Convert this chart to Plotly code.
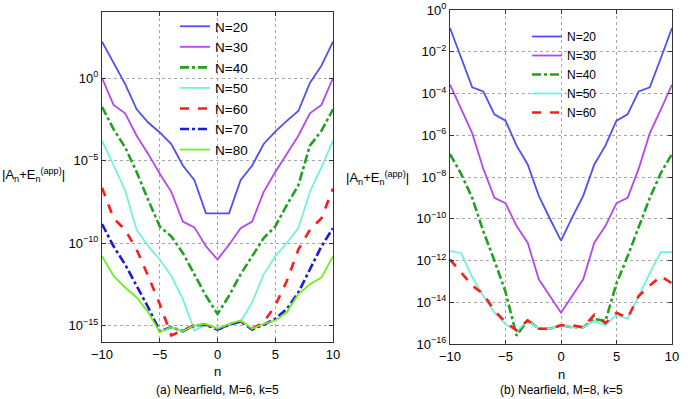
import numpy as np
import plotly.graph_objects as go

# sample index n
n = list(range(-10, 11))

# panel (a): Nearfield, M=6, k=5  -- log10 |A_n + E_n^(app)|
a_n20 = [2.2, 0.9, -0.35, -1.9, -2.7, -3.3, -4.0, -5.3, -6.2, -8.2, -8.2,
         -8.2, -6.2, -5.3, -4.0, -3.25, -2.6, -2.0, -0.3, 0.75, 2.2]
a_n30 = [0.0, -1.63, -2.14, -3.5, -4.6, -5.8, -6.9, -8.7, -9.05, -10.2, -11.0,
         -10.1, -9.1, -8.7, -6.9, -5.7, -4.6, -3.5, -2.14, -1.63, 0.0]
a_n40 = [-1.75, -3.1, -4.2, -5.7, -7.4, -9.0, -9.6, -10.6, -11.9, -13.2, -14.3,
         -13.2, -11.9, -10.8, -9.7, -9.0, -7.7, -6.5, -4.1, -3.2, -1.9]
a_n50 = [-3.8, -5.3, -6.8, -9.2, -10.2, -11.0, -12.0, -13.4, -15.3, -14.95, -15.2,
         -14.95, -14.75, -13.6, -11.9, -10.8, -10.0, -9.1, -6.9, -5.4, -3.8]
a_n60 = [-6.65, -8.5, -9.2, -10.4, -12.0, -13.7, -15.6, -15.3, -15.0, -14.95, -15.25,
         -14.95, -14.75, -15.2, -14.8, -13.8, -12.3, -10.4, -9.2, -8.5, -6.7]
a_n70 = [-8.85, -10.2, -11.3, -12.6, -13.9, -15.35, -15.1, -15.35, -15.0, -14.95, -15.25,
         -14.95, -14.75, -15.25, -14.95, -14.6, -14.0, -13.0, -11.6, -10.2, -9.1]
a_n80 = [-10.8, -12.0, -12.7, -13.3, -14.2, -15.4, -15.1, -15.35, -15.0, -14.9, -15.2,
         -14.9, -14.7, -15.2, -14.9, -14.7, -14.2, -13.1, -12.5, -12.1, -10.8]

# panel (b): Nearfield, M=8, k=5
b_n20 = [-0.86, -2.3, -3.7, -3.9, -5.0, -5.3, -6.5, -7.4, -8.9, -10.0, -11.05,
         -9.95, -8.9, -7.4, -6.5, -5.3, -5.0, -3.9, -3.7, -2.3, -0.86]
b_n30 = [-3.57, -4.76, -5.9, -7.6, -9.0, -9.25, -10.35, -11.15, -12.9, -13.7, -14.5,
         -13.7, -12.9, -11.15, -10.35, -9.25, -9.0, -7.6, -5.9, -4.76, -3.57]
b_n40 = [-6.9, -7.85, -9.0, -10.6, -12.0, -13.5, -15.6, -14.85, -15.27, -15.27, -15.1,
         -15.2, -15.2, -14.8, -14.9, -13.1, -11.8, -10.4, -9.0, -7.8, -6.9]
b_n50 = [-11.55, -11.65, -12.8, -13.7, -14.5, -15.05, -15.4, -14.87, -15.27, -15.27, -15.1,
         -15.2, -15.2, -14.9, -15.1, -14.6, -14.8, -13.7, -12.6, -11.6, -11.6]
b_n60 = [-11.95, -12.6, -13.2, -13.6, -14.4, -14.95, -15.35, -14.87, -15.27, -15.27, -15.1,
         -15.1, -15.2, -14.6, -15.0, -14.5, -14.75, -13.7, -13.2, -12.75, -13.1]

# y tick exponents
a_ticks = [0, -5, -10, -15]
b_ticks = [0, -2, -4, -6, -8, -10, -12, -14, -16]

FONT = "Liberation Sans, Arial, sans-serif"

styles = {
    "N=20": dict(color="#4f4ff2", width=1.8, dash="solid"),
    "N=30": dict(color="#b347f2", width=1.8, dash="solid"),
    "N=40": dict(color="#22a022", width=2.6, dash="dashdot"),
    "N=50": dict(color="#72f2dc", width=1.8, dash="solid"),
    "N=60": dict(color="#ff1a1a", width=2.6, dash="dash"),
    "N=70": dict(color="#1a1ae0", width=2.6, dash="dashdot"),
    "N=80": dict(color="#6ff01c", width=1.8, dash="solid"),
}

fig = go.Figure()

left = [("N=20", a_n20), ("N=30", a_n30), ("N=40", a_n40), ("N=50", a_n50),
        ("N=60", a_n60), ("N=70", a_n70), ("N=80", a_n80)]
for name, vals in left:
    fig.add_trace(go.Scatter(
        x=n, y=10 ** np.array(vals), mode="lines", name=name,
        line=styles[name], xaxis="x", yaxis="y", legend="legend",
    ))

right = [("N=20", b_n20), ("N=30", b_n30), ("N=40", b_n40), ("N=50", b_n50),
         ("N=60", b_n60)]
for name, vals in right:
    fig.add_trace(go.Scatter(
        x=n, y=10 ** np.array(vals), mode="lines", name=name,
        line=styles[name], xaxis="x2", yaxis="y2", legend="legend2",
    ))

W, H = 692, 399


def px(x):
    return x / W


def py(y):
    return 1 - y / H


def pow_label(e):
    return "10<sup>%s</sup>" % (str(e).replace("-", "\u2212"))


axis_common = dict(
    showline=True, linecolor="#333", linewidth=1, mirror="ticks",
    ticks="inside", ticklen=4, tickcolor="#333", automargin=False,
    showgrid=True, gridcolor="#a8a8a8", griddash="dot", gridwidth=1,
    zeroline=False, tickfont=dict(family=FONT, size=13, color="black"),
)

xaxis_common = dict(axis_common, range=[-10, 10], tickvals=[-10, -5, 0, 5, 10])

fig.update_layout(
    width=W, height=H,
    margin=dict(l=0, r=0, t=0, b=0),
    paper_bgcolor="white", plot_bgcolor="white",
    font=dict(family=FONT, size=13, color="black"),
    xaxis=dict(xaxis_common, domain=[px(102), px(333)], anchor="y"),
    yaxis=dict(axis_common, type="log", range=[-16, 4],
               tickvals=[10.0 ** e for e in a_ticks],
               ticktext=[pow_label(e) for e in a_ticks],
               domain=[py(342), py(12)], anchor="x"),
    xaxis2=dict(xaxis_common, domain=[px(450), px(672)], anchor="y2"),
    yaxis2=dict(axis_common, type="log", range=[-16, 0],
                tickvals=[10.0 ** e for e in b_ticks],
                ticktext=[pow_label(e) for e in b_ticks],
                domain=[py(344), py(10)], anchor="x2"),
    legend=dict(x=px(175), y=py(11), xanchor="left", yanchor="top",
                bgcolor="rgba(0,0,0,0)", font=dict(family=FONT, size=13.5),
                tracegroupgap=0),
    legend2=dict(x=px(527), y=py(22), xanchor="left", yanchor="top",
                 bgcolor="rgba(0,0,0,0)", font=dict(family=FONT, size=12),
                 tracegroupgap=0),
)

ylab = "|A<sub>n</sub>+E<sub>n</sub><sup>(app)</sup>|"
annos = [
    (33, 175, ylab, 13),
    (377, 178, ylab, 13),
    (217, 371, "n", 13),
    (561, 374, "n", 13),
    (217, 390, "(a) Nearfield, M=6, k=5", 12),
    (561, 390, "(b) Nearfield, M=8, k=5", 12),
]
for x, y, text, size in annos:
    fig.add_annotation(x=px(x), y=py(y), xref="paper", yref="paper",
                       xanchor="center", yanchor="middle",
                       text=text, showarrow=False,
                       font=dict(family=FONT, size=size, color="black"))

# the page's default body margin would push the fixed-size figure off the window
fig.write_html("out.html", config={"displayModeBar": False},
               post_script="document.body.style.margin='0';")
